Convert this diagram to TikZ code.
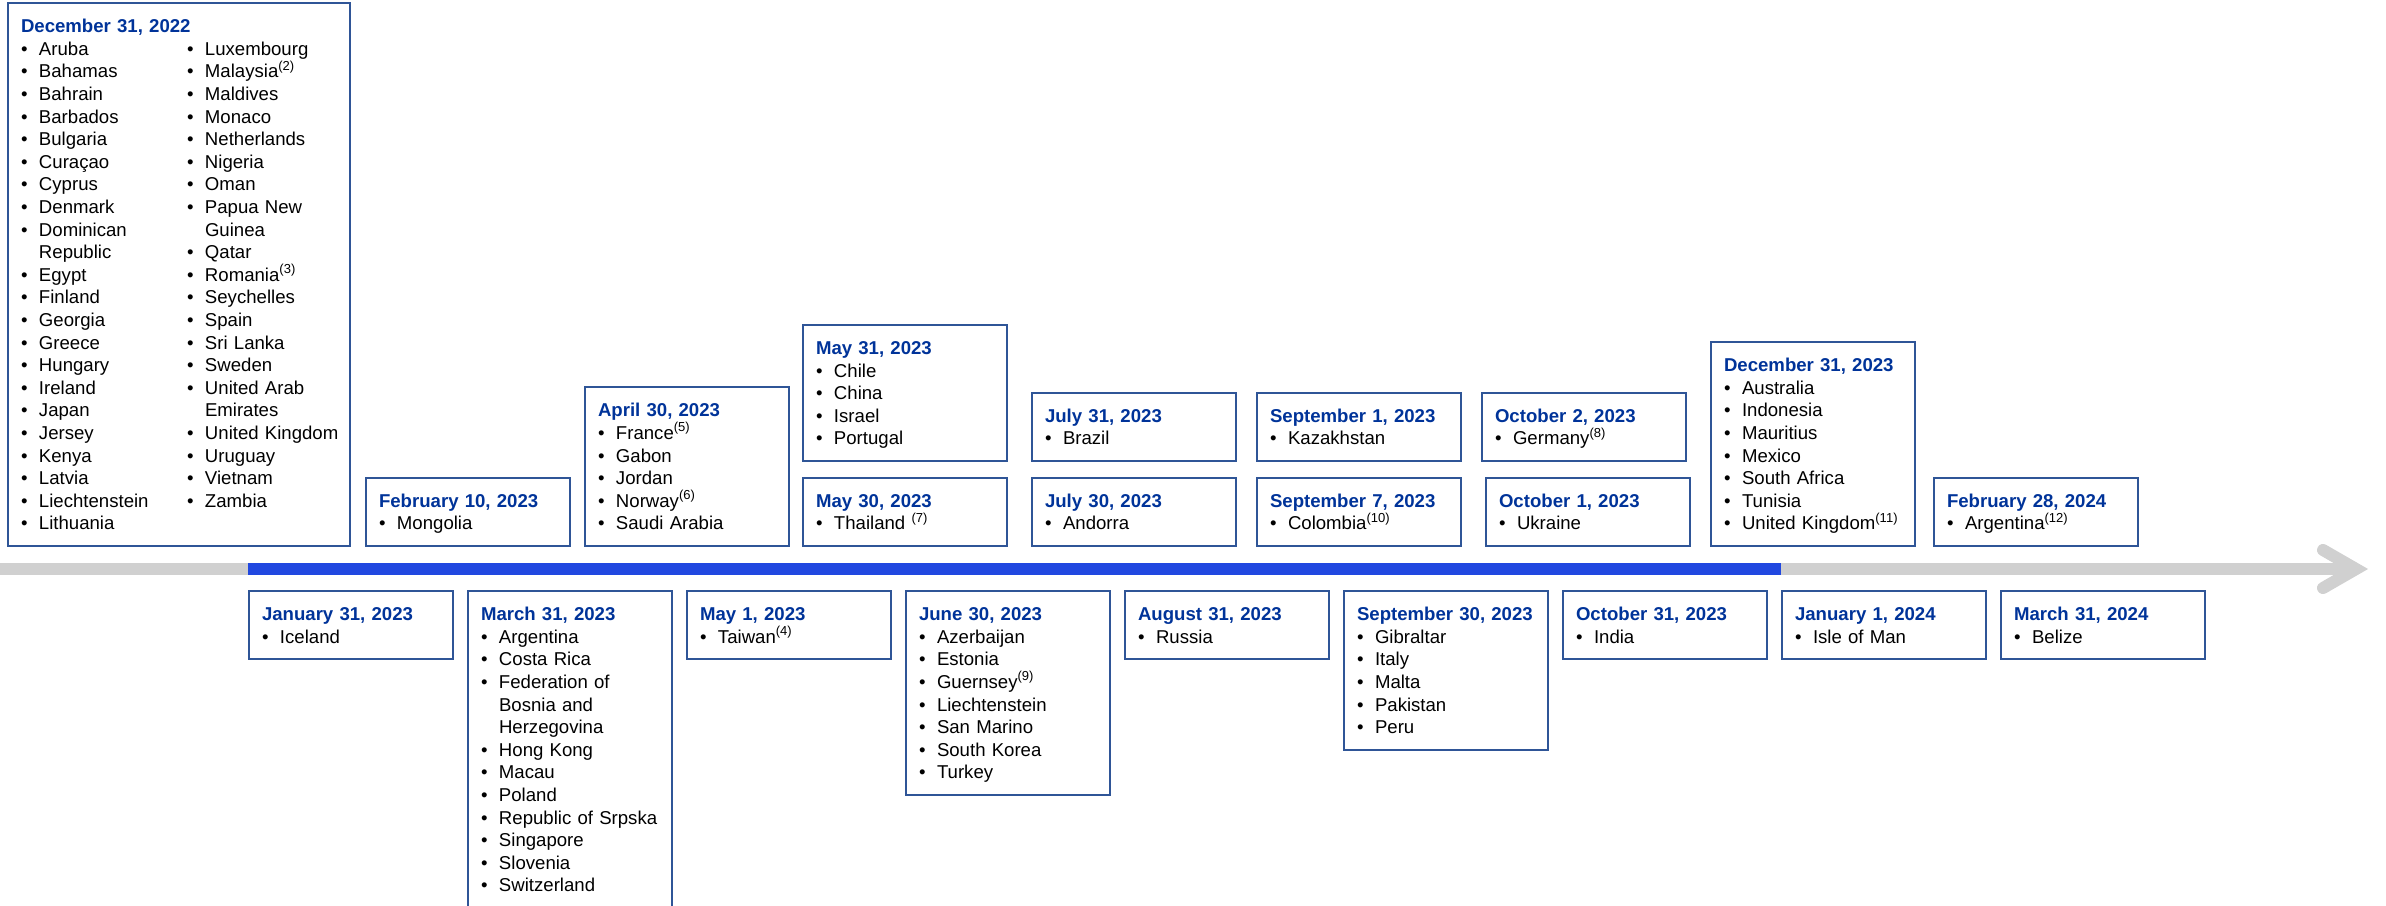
\documentclass[tikz,border=0pt]{standalone}
\usepackage{fontspec}
\setmainfont{Liberation Sans}
\definecolor{datecol}{RGB}{0,51,153}
\definecolor{framecol}{RGB}{47,85,151}
\definecolor{barblue}{RGB}{33,72,224}
\definecolor{bargray}{RGB}{208,208,208}
\newcommand{\datehead}[1]{\rule{0pt}{9.7pt}{\bfseries\color{datecol}#1}}
\newcommand{\itm}[1]{\mbox{\makebox[9pt][l]{\textbullet}#1}}
\newcommand{\wrapline}[1]{\mbox{\hspace*{9pt}#1}}
\newcommand{\lastline}{\rule[-2.9pt]{0pt}{2.9pt}}
\newcommand{\fnote}[1]{\textsuperscript{(#1)}}

\begin{document}
\begin{tikzpicture}[x=0.5pt,y=-0.5pt,
  datebox/.style={draw=framecol,line width=1pt,text width=89pt,inner xsep=6.5pt,inner ysep=5.15pt,
    align=left,font=\fontsize{9.3pt}{11.3pt}\selectfont},
  upper/.style={datebox,anchor=south west},
  lower/.style={datebox,anchor=north west},
  axis/.style={line width=6pt}]
\useasboundingbox (0,0) rectangle (2386,905);
\coordinate (axisstart) at (0,569);
\coordinate (axisend) at (2356,569);
\node[upper,text width=158pt] (dec22) at (7,547) {\datehead{December 31, 2022}\\
\parbox[t]{83pt}{\itm{Aruba}\\ \itm{Bahamas}\\ \itm{Bahrain}\\ \itm{Barbados}\\ \itm{Bulgaria}\\ \itm{Curaçao}\\ \itm{Cyprus}\\ \itm{Denmark}\\ \itm{Dominican}\\ \wrapline{Republic}\\ \itm{Egypt}\\ \itm{Finland}\\ \itm{Georgia}\\ \itm{Greece}\\ \itm{Hungary}\\ \itm{Ireland}\\ \itm{Japan}\\ \itm{Jersey}\\ \itm{Kenya}\\ \itm{Latvia}\\ \itm{Liechtenstein}\\ \itm{Lithuania}\lastline}%
\parbox[t]{75pt}{\itm{Luxembourg}\\ \itm{Malaysia\fnote{2}}\\ \itm{Maldives}\\ \itm{Monaco}\\ \itm{Netherlands}\\ \itm{Nigeria}\\ \itm{Oman}\\ \itm{Papua New}\\ \wrapline{Guinea}\\ \itm{Qatar}\\ \itm{Romania\fnote{3}}\\ \itm{Seychelles}\\ \itm{Spain}\\ \itm{Sri Lanka}\\ \itm{Sweden}\\ \itm{United Arab}\\ \wrapline{Emirates}\\ \itm{United Kingdom}\\ \itm{Uruguay}\\ \itm{Vietnam}\\ \itm{Zambia}}};
\node[upper] (feb10) at (365,547) {\datehead{February 10, 2023}\\ \itm{Mongolia}\lastline};
\node[upper] (apr30) at (584,547) {\datehead{April 30, 2023}\\ \itm{France\fnote{5}}\\ \itm{Gabon}\\ \itm{Jordan}\\ \itm{Norway\fnote{6}}\\ \itm{Saudi Arabia}\lastline};
\node[upper] (may31) at (802,462) {\datehead{May 31, 2023}\\ \itm{Chile}\\ \itm{China}\\ \itm{Israel}\\ \itm{Portugal}\lastline};
\node[upper] (may30) at (802,547) {\datehead{May 30, 2023}\\ \itm{Thailand \fnote{7}}\lastline};
\node[upper] (jul31) at (1031,462) {\datehead{July 31, 2023}\\ \itm{Brazil}\lastline};
\node[upper] (jul30) at (1031,547) {\datehead{July 30, 2023}\\ \itm{Andorra}\lastline};
\node[upper] (sep1) at (1256,462) {\datehead{September 1, 2023}\\ \itm{Kazakhstan}\lastline};
\node[upper] (sep7) at (1256,547) {\datehead{September 7, 2023}\\ \itm{Colombia\fnote{10}}\lastline};
\node[upper] (oct2) at (1481,462) {\datehead{October 2, 2023}\\ \itm{Germany\fnote{8}}\lastline};
\node[upper] (oct1) at (1485,547) {\datehead{October 1, 2023}\\ \itm{Ukraine}\lastline};
\node[upper] (dec23) at (1710,547) {\datehead{December 31, 2023}\\ \itm{Australia}\\ \itm{Indonesia}\\ \itm{Mauritius}\\ \itm{Mexico}\\ \itm{South Africa}\\ \itm{Tunisia}\\ \itm{United Kingdom\fnote{11}}\lastline};
\node[upper] (feb24) at (1933,547) {\datehead{February 28, 2024}\\ \itm{Argentina\fnote{12}}\lastline};
\node[lower] (jan31) at (248,590) {\datehead{January 31, 2023}\\ \itm{Iceland}\lastline};
\node[lower] (mar31) at (467,590) {\datehead{March 31, 2023}\\ \itm{Argentina}\\ \itm{Costa Rica}\\ \itm{Federation of}\\ \wrapline{Bosnia and}\\ \wrapline{Herzegovina}\\ \itm{Hong Kong}\\ \itm{Macau}\\ \itm{Poland}\\ \itm{Republic of Srpska}\\ \itm{Singapore}\\ \itm{Slovenia}\\ \itm{Switzerland}\lastline};
\node[lower] (may1) at (686,590) {\datehead{May 1, 2023}\\ \itm{Taiwan\fnote{4}}\lastline};
\node[lower] (jun30) at (905,590) {\datehead{June 30, 2023}\\ \itm{Azerbaijan}\\ \itm{Estonia}\\ \itm{Guernsey\fnote{9}}\\ \itm{Liechtenstein}\\ \itm{San Marino}\\ \itm{South Korea}\\ \itm{Turkey}\lastline};
\node[lower] (aug31) at (1124,590) {\datehead{August 31, 2023}\\ \itm{Russia}\lastline};
\node[lower] (sep30) at (1343,590) {\datehead{September 30, 2023}\\ \itm{Gibraltar}\\ \itm{Italy}\\ \itm{Malta}\\ \itm{Pakistan}\\ \itm{Peru}\lastline};
\node[lower] (oct31) at (1562,590) {\datehead{October 31, 2023}\\ \itm{India}\lastline};
\node[lower] (jan24) at (1781,590) {\datehead{January 1, 2024}\\ \itm{Isle of Man}\lastline};
\node[lower] (mar24) at (2000,590) {\datehead{March 31, 2024}\\ \itm{Belize}\lastline};
\draw[axis,bargray] (axisstart) -- (axisend);
\draw[axis,bargray,line cap=round,line join=miter] ([shift={(-33,-19)}]axisend) -- (axisend) -- ([shift={(-33,19)}]axisend);
\draw[axis,barblue] (jan31.north west |- axisstart) -- (jan24.north west |- axisstart);
\end{tikzpicture}
\end{document}
